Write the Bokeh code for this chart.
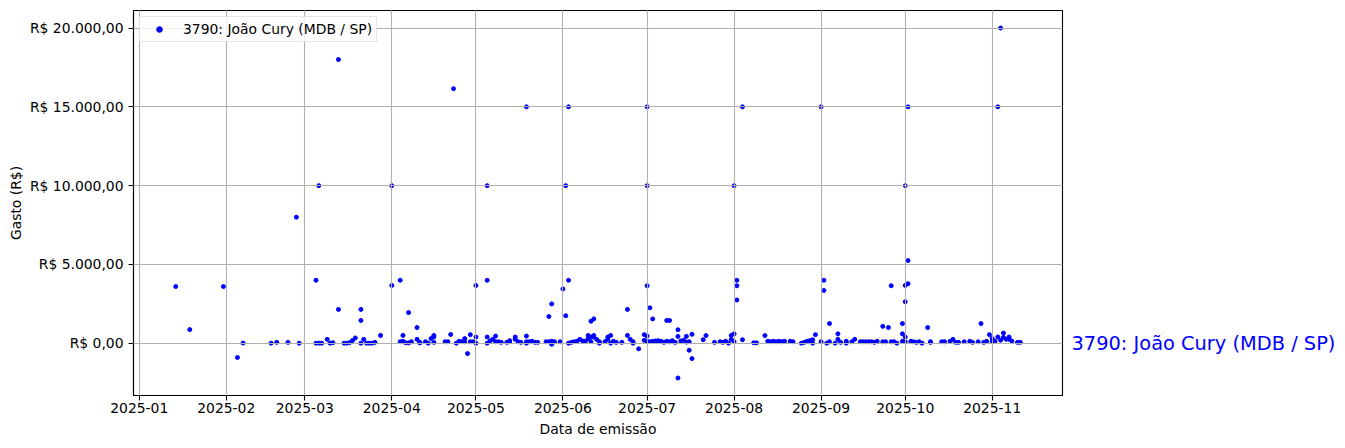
import numpy as np
import pandas as pd
from bokeh.plotting import figure
from bokeh.layouts import row
from bokeh.models import FixedTicker, Range1d, ColumnDataSource
from bokeh.core.properties import value
from bokeh.embed import file_html
from bokeh.resources import INLINE

series_label = "3790: João Cury (MDB / SP)"
x_title = "Data de emissão"
y_title = "Gasto (R$)"

month_labels = ["2025-01", "2025-02", "2025-03", "2025-04", "2025-05", "2025-06",
                "2025-07", "2025-08", "2025-09", "2025-10", "2025-11"]
y_ticks = [0, 5000, 10000, 15000, 20000]
y_tick_labels = ["R$ 0,00", "R$ 5.000,00", "R$ 10.000,00", "R$ 15.000,00", "R$ 20.000,00"]

dates = [
    "01-14", "01-19", "01-31",
    "02-05", "02-07", "02-17", "02-19", "02-23", "02-26", "02-27",
    "03-05", "03-05", "03-06", "03-06", "03-07", "03-09", "03-10", "03-11", "03-13", "03-13",
    "03-15", "03-16", "03-17", "03-18", "03-19", "03-21", "03-21", "03-21", "03-22", "03-23",
    "03-24", "03-25", "03-26", "03-28",
    "04-01", "04-01", "04-04", "04-04", "04-05", "04-05", "04-06", "04-07", "04-07", "04-08",
    "04-10", "04-10", "04-11", "04-11", "04-13", "04-14", "04-15", "04-16", "04-16", "04-16",
    "04-20", "04-21", "04-22", "04-23", "04-24", "04-25", "04-26", "04-27", "04-27", "04-28",
    "04-29", "04-29", "04-30",
    "05-01", "05-01", "05-01", "05-05", "05-05", "05-05", "05-05", "05-06", "05-07", "05-08",
    "05-08", "05-09", "05-10", "05-12", "05-13", "05-13", "05-15", "05-15", "05-16", "05-17",
    "05-19", "05-19", "05-19", "05-19", "05-20", "05-21", "05-22", "05-23", "05-27", "05-26",
    "05-27", "05-28", "05-28", "05-28", "05-29", "05-31",
    "06-01", "06-02", "06-02", "06-03", "06-03", "06-03", "06-04", "06-05", "06-06", "06-07",
    "06-08", "06-09", "06-10", "06-10", "06-11", "06-11", "06-11", "06-12", "06-12", "06-12",
    "06-13", "06-14", "06-14", "06-16", "06-17", "06-17", "06-18", "06-18", "06-19", "06-20",
    "06-22", "06-24", "06-24", "06-25", "06-26", "06-26", "06-28", "06-30", "06-30",
    "07-01", "07-01", "07-01", "07-01", "07-01", "07-02", "07-02", "07-03", "07-03", "07-04",
    "07-05", "07-06", "07-07", "07-08", "07-08", "07-09", "07-09", "07-10", "07-12", "07-12",
    "07-12", "07-11", "07-13", "07-14", "07-15", "07-16", "07-15", "07-17", "07-17", "07-16",
    "07-21", "07-22", "07-25", "07-27", "07-28", "07-29", "07-30", "07-31", "07-31",
    "08-02", "08-02", "08-01", "08-01", "08-01", "08-02", "08-04", "08-04", "08-08", "08-09",
    "08-12", "08-13", "08-14", "08-15", "08-16", "08-17", "08-18", "08-19", "08-21", "08-22",
    "08-25", "08-26", "08-27", "08-28", "08-29", "08-29", "08-30",
    "09-01", "09-01", "09-02", "09-02", "09-03", "09-04", "09-04", "09-06", "09-07", "09-07",
    "09-08", "09-10", "09-10", "09-12", "09-13", "09-15", "09-16", "09-17", "09-18", "09-19",
    "09-20", "09-21", "09-23", "09-23", "09-24", "09-25", "09-26", "09-26", "09-27", "09-28",
    "09-30", "09-30", "09-30",
    "10-01", "10-01", "10-01", "10-01", "10-01", "10-02", "10-02", "10-02", "10-03", "10-04",
    "10-05", "10-06", "10-07", "10-09", "10-10", "10-10", "10-14", "10-15", "10-17", "10-18",
    "10-19", "10-20", "10-22", "10-24", "10-25", "10-27", "10-28", "10-29", "10-30", "10-31",
    "11-01", "11-01", "11-02", "11-03", "11-04", "11-03", "11-04", "11-05", "11-05", "11-06",
    "11-07", "11-07", "11-08", "11-10", "11-11",
]

values = [
    3600, 870, 3600,
    -900, 20, 10, 60, 60, 8000, 10,
    4000, 10, 10000, 10, 10, 250, 10, 40, 18000, 2150,
    10, 10, 50, 180, 340, 2150, 1450, 10, 250, 10,
    10, 10, 60, 500,
    10000, 3670, 4000, 100, 500, 130, 30, 1950, 30, 100,
    1000, 250, 60, 30, 100, 10, 300, 400, 500, 60,
    100, 100, 560, 16150, 10, 130, 100, 100, 300, -650,
    100, 550, 100,
    3670, 400, 10, 4000, 10000, 400, 10, 150, 250, 100,
    460, 100, 60, 60, 100, 170, 400, 250, 100, 60,
    15000, 100, 460, 10, 100, 130, 60, 60, 1700, 100,
    100, 2500, 130, -60, 100, 100,
    3450, 10000, 1750, 4000, 15000, 10, 60, 100, 130, 250,
    150, 130, 500, 300, 1400, 100, 400, 1550, 500, 400,
    250, 100, 10, 100, 250, 400, 500, 10, 130, 60,
    60, 500, 2150, 250, 100, 10, -350, 550, 190,
    3650, 10000, 15000, 460, 130, 2250, 100, 1550, 130, 150,
    170, 130, 60, 1450, 130, 1450, 100, 170, 860, -2200,
    440, 60, 150, 190, 440, -440, 80, 570, -970, 100,
    230, 490, 60, 100, 60, 130, 10, 500, 250,
    4000, 3650, 10000, 600, 100, 2750, 15000, 230, 30, 30,
    490, 130, 100, 130, 100, 130, 100, 130, 130, 100,
    10, 60, 130, 170, 230, 10, 550,
    15000, 100, 4000, 3350, 10, 1250, 100, 10, 600, 250,
    60, 10, 130, 100, 250, 100, 100, 100, 100, 100,
    60, 130, 1075, 100, 100, 1000, 3650, 100, 100, 10,
    600, 1250, 130,
    10000, 3670, 2640, 400, 100, 15000, 3780, 5250, 130, 100,
    60, 100, 10, 1000, 100, 60, 100, 100, 130, 250,
    60, 60, 100, 130, 60, 100, 1250, 60, 130, 550,
    300, 100, 130, 15000, 20000, 400, 200, 650, 380, 250,
    400, 250, 150, 60, 60,
]

FONT = "DejaVu Sans"
FS = "13.9px"
H = 448

def to_ms(strs):
    return pd.to_datetime(strs).values.astype("datetime64[ms]").astype("int64")

xms = to_ms(["2025-" + d for d in dates])
yv = np.array(values, dtype=float)
src = ColumnDataSource(dict(x=xms, y=yv))

xmin, xmax = xms.min(), xms.max()
xpad = 0.05 * (xmax - xmin)
ymin, ymax = yv.min(), yv.max()
ypad = 0.05 * (ymax - ymin)
yr = Range1d(ymin - ypad, ymax + ypad)

p = figure(width=1066, height=H, x_axis_type="datetime",
           output_backend="svg", toolbar_location=None,
           x_range=Range1d(xmin - xpad, xmax + xpad), y_range=yr,
           min_border_left=133, min_border_right=4,
           min_border_top=10, min_border_bottom=53)
p.background_fill_color = "white"
p.border_fill_color = "white"
p.outline_line_color = "black"
p.outline_line_width = 1.1

p.scatter(x="x", y="y", source=src, size=4.0, fill_color="blue",
          line_color="blue", line_width=1.0, legend_label=series_label)

month_ms = to_ms([m + "-01" for m in month_labels])
p.xaxis.ticker = FixedTicker(ticks=[int(v) for v in month_ms])
p.xaxis.major_label_overrides = {int(v): lab for v, lab in zip(month_ms, month_labels)}
p.yaxis.ticker = FixedTicker(ticks=y_ticks)
p.yaxis.major_label_overrides = {v: lab for v, lab in zip(y_ticks, y_tick_labels)}

for ax in (p.xaxis[0], p.yaxis[0]):
    ax.major_label_text_font = FONT
    ax.major_label_text_font_size = FS
    ax.major_label_text_color = "black"
    ax.axis_label_text_font = FONT
    ax.axis_label_text_font_size = FS
    ax.axis_label_text_font_style = "normal"
    ax.axis_label_text_color = "black"
    ax.axis_line_color = "black"
    ax.axis_line_width = 1.1
    ax.major_tick_line_color = "black"
    ax.major_tick_line_width = 1.1
    ax.major_tick_in = 0
    ax.major_tick_out = 5
    ax.minor_tick_line_color = None

p.xaxis.axis_label = x_title
p.yaxis.axis_label = y_title
p.xaxis.major_label_standoff = 2
p.xaxis.axis_label_standoff = 5
p.yaxis.major_label_standoff = 5
p.yaxis.axis_label_standoff = 3

p.grid.grid_line_color = "#b0b0b0"
p.grid.grid_line_width = 1.1
p.grid.level = "guide"

lg = p.legend[0]
lg.location = "top_left"
lg.margin = 6
lg.padding = 4
lg.spacing = 0
lg.glyph_width = 30
lg.glyph_height = 14
lg.label_height = 14
lg.label_standoff = 9
lg.label_text_font = FONT
lg.label_text_font_size = FS
lg.label_text_color = "black"
lg.border_line_color = "#cccccc"
lg.border_line_width = 1
lg.background_fill_alpha = 0.8

# side panel carrying the series annotation at y = 0
p2 = figure(width=1345 - 1066, height=H, output_backend="svg", toolbar_location=None,
            x_range=Range1d(0, 1), y_range=yr,
            x_axis_location=None, y_axis_location=None,
            min_border_left=0, min_border_right=0,
            min_border_top=10, min_border_bottom=53)
p2.outline_line_color = None
p2.grid.visible = False
p2.background_fill_color = "white"
p2.border_fill_color = "white"
p2.text(x=[0], y=[0], text=[series_label], x_offset=5, text_color="blue",
        text_font=value(FONT), text_font_size="19.4px",
        text_baseline="middle", text_align="left")

layout = row(p, p2, spacing=0)
open("out.html", "w").write(file_html(layout, INLINE))
